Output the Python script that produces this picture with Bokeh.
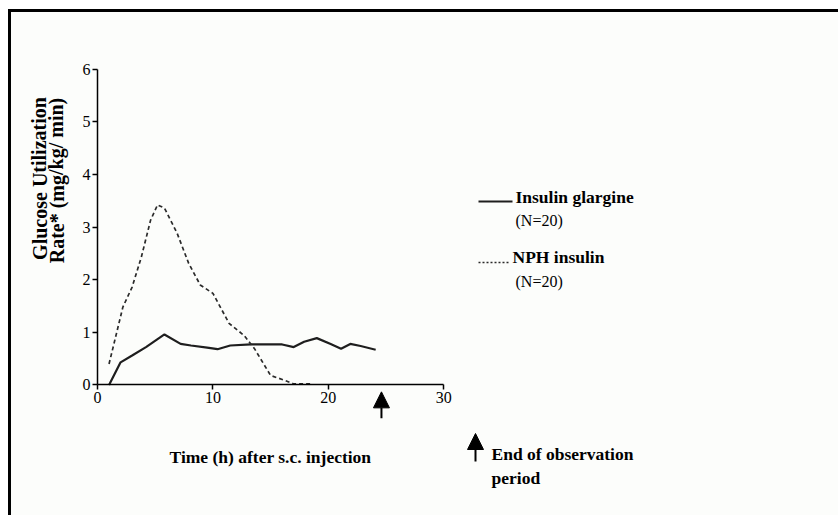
from bokeh.plotting import figure
from bokeh.models import Label, Arrow, NormalHead, BoxAnnotation, FixedTicker, LinearAxis
from bokeh.embed import file_html
from bokeh.resources import INLINE

# Glucose utilization rate (mg/kg/min) over time after s.c. injection (h)
glargine_t = [1.0, 2.0, 3.0, 4.2, 5.8, 7.2, 8.1, 9.5, 10.4, 11.5, 13.3, 16.0, 17.0, 17.9, 19.0, 20.2, 21.1, 21.9, 22.8, 24.1]
glargine_rate = [0.0, 0.43, 0.56, 0.72, 0.96, 0.78, 0.75, 0.71, 0.68, 0.75, 0.77, 0.77, 0.72, 0.82, 0.89, 0.78, 0.69, 0.78, 0.74, 0.67]

nph_t = [1.0, 2.2, 3.0, 3.8, 4.6, 5.2, 5.8, 6.9, 7.9, 8.9, 10.0, 11.4, 12.7, 13.6, 15.0, 16.2, 17.0, 18.5]
nph_rate = [0.40, 1.48, 1.86, 2.43, 3.13, 3.42, 3.36, 2.88, 2.31, 1.90, 1.74, 1.17, 0.94, 0.69, 0.18, 0.09, 0.02, 0.02]

x_ticks = [0, 10, 20, 30]
y_ticks = [0, 1, 2, 3, 4, 5, 6]
end_of_observation = 24.6

SERIF = "Liberation Serif"
W, H = 838, 515

# The plotting frame spans the whole page; the axes sit at the origin of the
# data and cover t = 0..30 h and rate = 0..6 only.
p = figure(width=W, height=H, x_range=(-8.403, 64.195), y_range=(-2.478, 7.301),
           x_axis_location=None, y_axis_location=None,
           output_backend="svg", toolbar_location=None,
           min_border=0)
p.background_fill_color = "white"
p.border_fill_color = "white"
p.outline_line_color = None
p.grid.visible = False

# page panel with a heavy rule along its left and top edges
p.add_layout(BoxAnnotation(left=9, right=W + 40, top=H - 10, bottom=-40,
                           left_units="screen", right_units="screen",
                           top_units="screen", bottom_units="screen",
                           fill_color="#fcfdfb", fill_alpha=1.0,
                           line_color=None, level="underlay"))
p.add_layout(Arrow(x_start=9, y_start=-10, x_end=9, y_end=H - 10,
                   start_units="screen", end_units="screen", end=None,
                   line_color="black", line_width=3, level="underlay"))
p.add_layout(Arrow(x_start=7.5, y_start=H - 10, x_end=W + 10, y_end=H - 10,
                   start_units="screen", end_units="screen", end=None,
                   line_color="black", line_width=3, level="underlay"))

xaxis = LinearAxis(fixed_location=0, bounds=(0, 30), ticker=FixedTicker(ticks=x_ticks))
yaxis = LinearAxis(fixed_location=0, bounds=(0, 6), ticker=FixedTicker(ticks=y_ticks))
p.add_layout(xaxis, "below")
p.add_layout(yaxis, "left")

for ax in (xaxis, yaxis):
    ax.axis_line_color = "black"
    ax.axis_line_width = 1.5
    ax.major_tick_line_color = "black"
    ax.major_tick_line_width = 1.5
    ax.major_tick_in = 0
    ax.major_tick_out = 5
    ax.minor_tick_line_color = None
    ax.major_label_text_font = SERIF
    ax.major_label_text_font_size = "16px"
    ax.major_label_text_color = "black"

xaxis.major_label_standoff = 2
yaxis.major_label_standoff = 2

xaxis.axis_label = "Time (h) after s.c. injection"
xaxis.axis_label_text_font = SERIF
xaxis.axis_label_text_font_style = "bold"
xaxis.axis_label_text_font_size = "17.5px"
xaxis.axis_label_text_color = "black"
xaxis.axis_label_standoff = 41

p.line(glargine_t, glargine_rate, line_color="#1e1e1e", line_width=2.2)
p.line(nph_t, nph_rate, line_color="#2a2a2a", line_width=1.7, line_dash="4 3")


def text_at(x, y, text, bold=True, size="17.5px", angle=0.0, align="left"):
    # x, y: page position measured from the top-left corner
    p.add_layout(Label(x=x, y=H - y, x_units="screen", y_units="screen",
                       text=text, angle=angle, text_align=align, text_baseline="middle",
                       text_font=SERIF, text_font_style="bold" if bold else "normal",
                       text_font_size=size, text_color="black"))


# rotated y axis title, two lines
text_at(39, 178, "Glucose Utilization", angle=1.5708, align="center", size="20px")
text_at(56, 180, "Rate* (mg/kg/ min)", angle=1.5708, align="center", size="20px")

# key
p.add_layout(Arrow(x_start=478, y_start=H - 201, x_end=512, y_end=H - 201,
                   start_units="screen", end_units="screen", end=None,
                   line_color="#1e1e1e", line_width=2.2))
text_at(515, 196, "Insulin glargine")
text_at(515, 220, "(N=20)", bold=False, size="16px")

p.add_layout(Arrow(x_start=478, y_start=H - 262, x_end=509, y_end=H - 262,
                   start_units="screen", end_units="screen", end=None,
                   line_color="#2a2a2a", line_width=1.7, line_dash="2 2"))
text_at(512, 256, "NPH insulin")
text_at(515, 281, "(N=20)", bold=False, size="16px")

# end-of-observation marker below the time axis
p.add_layout(Arrow(x_start=end_of_observation, y_start=-0.63, x_end=end_of_observation, y_end=-0.13,
                   end=NormalHead(size=16, fill_color="black", line_color="black"),
                   line_color="black", line_width=2))

p.add_layout(Arrow(x_start=475, y_start=H - 461, x_end=475, y_end=H - 433,
                   start_units="screen", end_units="screen",
                   end=NormalHead(size=16, fill_color="black", line_color="black"),
                   line_color="black", line_width=2))
text_at(491, 453, "End of observation")
text_at(491, 477, "period")

open("out.html", "w").write(file_html(p, INLINE))
